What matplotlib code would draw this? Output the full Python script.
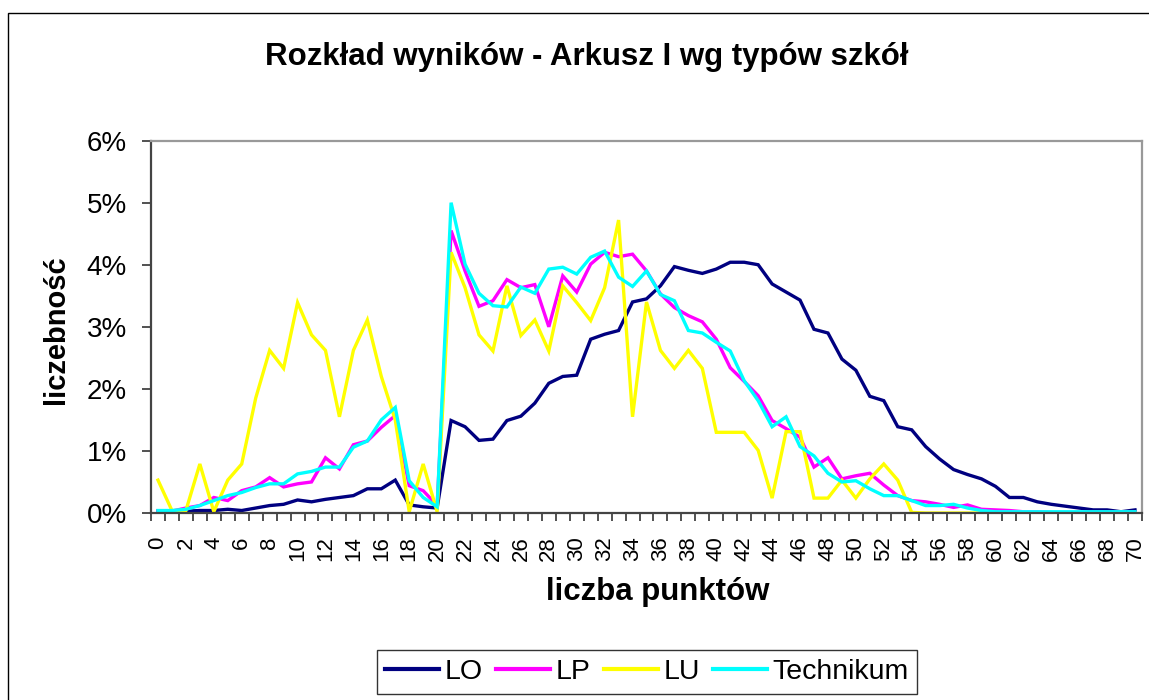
import matplotlib
matplotlib.use("Agg")
import matplotlib.pyplot as plt
from matplotlib.patches import Rectangle
from matplotlib.ticker import PercentFormatter, MultipleLocator
import numpy as np

plt.rcParams['font.family'] = ['Liberation Sans', 'DejaVu Sans']

# liczba punktów 0..70, udział w procentach
points = np.arange(0, 71)

lo = [0.03, 0.03, 0.03, 0.04, 0.04, 0.06, 0.04, 0.08, 0.12, 0.14,
      0.21, 0.18, 0.22, 0.25, 0.28, 0.39, 0.39, 0.53, 0.13, 0.10,
      0.08, 1.49, 1.39, 1.17, 1.19, 1.49, 1.56, 1.77, 2.09, 2.20,
      2.22, 2.80, 2.88, 2.94, 3.40, 3.45, 3.66, 3.97, 3.91, 3.86,
      3.93, 4.04, 4.04, 4.00, 3.69, 3.56, 3.43, 2.96, 2.90, 2.48,
      2.30, 1.88, 1.81, 1.39, 1.34, 1.07, 0.87, 0.70, 0.62, 0.55,
      0.43, 0.25, 0.25, 0.18, 0.14, 0.11, 0.08, 0.05, 0.05, 0.02,
      0.05]

lp = [0.03, 0.03, 0.08, 0.12, 0.25, 0.20, 0.36, 0.42, 0.57, 0.42,
      0.47, 0.50, 0.89, 0.71, 1.10, 1.16, 1.38, 1.57, 0.44, 0.36,
      0.12, 4.55, 3.90, 3.33, 3.42, 3.76, 3.63, 3.68, 3.00, 3.82,
      3.56, 4.01, 4.20, 4.13, 4.17, 3.90, 3.53, 3.31, 3.18, 3.08,
      2.80, 2.34, 2.12, 1.89, 1.49, 1.36, 1.22, 0.74, 0.89, 0.55,
      0.60, 0.64, 0.45, 0.28, 0.20, 0.18, 0.14, 0.09, 0.13, 0.06,
      0.05, 0.04, 0.02, 0.02, 0.01, 0.01, 0.01, 0.01, 0.01, 0.01,
      0.01]

lu = [0.53, 0.04, 0.04, 0.79, 0.02, 0.53, 0.79, 1.85, 2.62, 2.33,
      3.39, 2.87, 2.62, 1.55, 2.62, 3.11, 2.20, 1.50, 0.02, 0.79,
      0.02, 4.20, 3.63, 2.87, 2.61, 3.66, 2.86, 3.11, 2.61, 3.66,
      3.39, 3.10, 3.63, 4.72, 1.55, 3.40, 2.62, 2.33, 2.62, 2.33,
      1.30, 1.30, 1.30, 1.01, 0.24, 1.31, 1.31, 0.24, 0.24, 0.53,
      0.24, 0.55, 0.79, 0.53, 0.01, 0.0, 0.0, 0.0, 0.0, 0.0,
      0.0, 0.0, 0.0, 0.0, 0.0, 0.0, 0.0, 0.0, 0.0, 0.0,
      0.0]

technikum = [0.04, 0.04, 0.06, 0.12, 0.20, 0.28, 0.33, 0.41, 0.47, 0.47,
             0.63, 0.67, 0.74, 0.74, 1.06, 1.16, 1.50, 1.70, 0.52, 0.25,
             0.10, 5.00, 4.01, 3.54, 3.34, 3.32, 3.64, 3.54, 3.93, 3.96,
             3.85, 4.12, 4.22, 3.80, 3.65, 3.90, 3.52, 3.42, 2.94, 2.90,
             2.75, 2.61, 2.13, 1.81, 1.39, 1.55, 1.07, 0.92, 0.64, 0.50,
             0.52, 0.39, 0.28, 0.28, 0.20, 0.12, 0.12, 0.14, 0.08, 0.04,
             0.02, 0.02, 0.02, 0.02, 0.02, 0.02, 0.02, 0.02, 0.02, 0.02,
             0.02]

series = [("LO", lo, "#000080"), ("LP", lp, "#FF00FF"),
          ("LU", lu, "#FFFF00"), ("Technikum", technikum, "#00FFFF")]

fig = plt.figure(figsize=(11.49, 7.0), dpi=100)
ax = fig.add_axes([151 / 1149, 1 - 513 / 700, (1142 - 151) / 1149, (513 - 140.6) / 700])

for name, vals, col in series:
    ax.plot(points, vals, color=col, lw=2.4, label=name, solid_joinstyle='miter')

ax.set_xlim(-0.5, 70.5)
ax.set_ylim(0, 6)
ax.yaxis.set_major_locator(MultipleLocator(1))
ax.yaxis.set_major_formatter(PercentFormatter(100, decimals=0))
ax.set_xticks(points[::2])
ax.set_xticklabels([str(p) for p in points[::2]], rotation=90, fontsize=16)
ax.set_xticks(np.arange(-0.5, 71, 1), minor=True)
ax.tick_params(axis='x', which='major', length=0, pad=17)
ax.tick_params(axis='x', which='minor', length=6, width=1.2, color='#333333')
ax.tick_params(axis='y', labelsize=20, length=6.5, width=1.2, color='#333333', pad=11)

ax.grid(axis='y', color='black', linestyle=(0, (7, 5)), lw=0.8)
for gl in ax.get_ygridlines():
    y = gl.get_ydata()[0]
    if y <= 0 or y >= 6:
        gl.set_visible(False)

for s in ['left', 'bottom']:
    ax.spines[s].set_color('#444444')
    ax.spines[s].set_linewidth(1.6)
for s in ['top', 'right']:
    ax.spines[s].set_color('#999999')
    ax.spines[s].set_linewidth(1.6)

fig.text(587 / 1149, 1 - 57 / 700, "Rozkład wyników - Arkusz I wg typów szkół",
         ha='center', va='center', fontsize=22.5, fontweight='bold')
fig.text(658 / 1149, 1 - 592 / 700, "liczba punktów", ha='center', va='center',
         fontsize=22.5, fontweight='bold')
fig.text(56 / 1149, 1 - 330 / 700, "liczebność", ha='center', va='center',
         rotation=90, fontsize=21, fontweight='bold')

leg = fig.legend(loc='center', bbox_to_anchor=(647 / 1149, 1 - 672 / 700), ncol=4,
                 fontsize=20.5, frameon=True, fancybox=False, edgecolor='black',
                 handlelength=1.9, handletextpad=0.2, columnspacing=0.45,
                 borderpad=0.3)
leg.get_frame().set_linewidth(1.0)
for line in leg.get_lines():
    line.set_linewidth(3.0)

# ramka wykresu
fig.add_artist(Rectangle((8 / 1149, -0.1), 1.2, 1 - 13 / 700 + 0.1,
                         transform=fig.transFigure, fill=False,
                         edgecolor='black', lw=1.0))

fig.savefig("out.png", dpi=100)
